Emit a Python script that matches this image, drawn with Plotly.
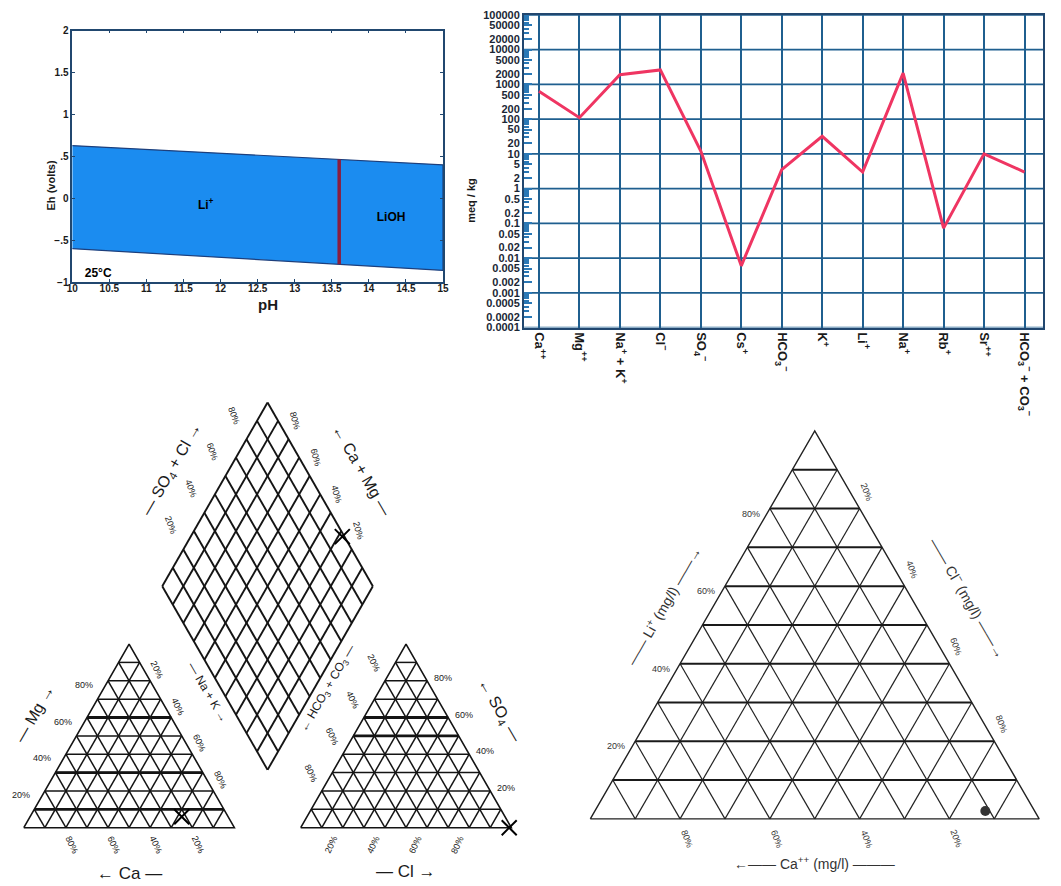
import numpy as np
import plotly.graph_objects as go

W, H = 1061, 886

# ---------------- Panel A : Eh-pH diagram ----------------
ph_ends = [10, 15]
eh_upper = [0.63, 0.40]
eh_lower = [-0.60, -0.86]
ph_li_lioh = 13.6
ph_ticks = [10, 10.5, 11, 11.5, 12, 12.5, 13, 13.5, 14, 14.5, 15]
ph_ticktext = ["10", "10.5", "11", "11.5", "12", "12.5", "13", "13.5", "14", "14.5", "15"]
eh_ticks = [-1, -0.5, 0, 0.5, 1, 1.5, 2]
eh_ticktext = ["−1", "−.5", "0", ".5", "1", "1.5", "2"]
field_names = ["Li<sup>+</sup>", "LiOH"]
field_ph = [11.8, 14.3]
field_eh = [-0.09, -0.23]
temp_label = "25°C"
temp_ph = 10.35
temp_eh = -0.9

# ---------------- Panel B : Schoeller diagram ----------------
ions = ["Ca<sup>++</sup>", "Mg<sup>++</sup>", "Na<sup>+</sup> + K<sup>+</sup>", "Cl<sup>−</sup>",
        "SO<sub>4</sub><sup>−</sup>", "Cs<sup>+</sup>", "HCO<sub>3</sub><sup>−</sup>", "K<sup>+</sup>",
        "Li<sup>+</sup>", "Na<sup>+</sup>", "Rb<sup>+</sup>", "Sr<sup>++</sup>",
        "HCO<sub>3</sub><sup>−</sup> + CO<sub>3</sub><sup>−</sup>"]
meq_kg = [630, 110, 1900, 2600, 12, 0.006, 3.5, 32, 3.0, 2100, 0.073, 10, 3.0]
meq_ticks = [1e-4, 2e-4, 5e-4, 1e-3, 2e-3, 5e-3, 0.01, 0.02, 0.05, 0.1, 0.2, 0.5,
             1, 2, 5, 10, 20, 50, 100, 200, 500, 1000, 2000, 5000, 10000, 20000, 50000, 100000]
meq_ticktext = ["0.0001", "0.0002", "0.0005", "0.001", "0.002", "0.005", "0.01", "0.02", "0.05",
                "0.1", "0.2", "0.5", "1", "2", "5", "10", "20", "50", "100", "200", "500",
                "1000", "2000", "5000", "10000", "20000", "50000", "100000"]
meq_decades = [1e-4, 1e-3, 1e-2, 1e-1, 1, 10, 100, 1000, 10000, 100000]

# ---------------- Panel C : Piper diagram ----------------
grid_levels = [0.1, 0.2, 0.3, 0.4, 0.5, 0.6, 0.7, 0.8, 0.9]
pct_levels = [0.2, 0.4, 0.6, 0.8]
cation_names = ["Ca", "Mg", "Na + K"]
cation_pct = [22, 6, 72]
anion_names = ["HCO3 + CO3", "SO4", "Cl"]
anion_pct = [1, 0, 99]
cation_bold_levels = [0.1, 0.3, 0.6]
anion_bold_levels = [0.5, 0.6]

# ---------------- Panel D : Li - Cl - Ca ternary ----------------
tern_names = ["Ca++", "Cl-", "Li+"]
tern_pct = [11, 87, 2]     # Ca, Cl, Li

h = np.sqrt(3) / 2
gap = 0.315


def tri_pt(left, right, top, x0=0.0):
    return (x0 + right + top / 2.0, top * h)


def tri_grid(levels, x0=0.0):
    horiz, diag = [], []
    for v in levels:
        horiz.append((tri_pt(1 - v, 0, v, x0), tri_pt(0, 1 - v, v, x0)))
        diag.append((tri_pt(v, 1 - v, 0, x0), tri_pt(v, 0, 1 - v, x0)))
        diag.append((tri_pt(1 - v, v, 0, x0), tri_pt(0, v, 1 - v, x0)))
    return horiz, diag


def tri_outline(x0=0.0):
    pts = [tri_pt(1, 0, 0, x0), tri_pt(0, 1, 0, x0), tri_pt(0, 0, 1, x0), tri_pt(1, 0, 0, x0)]
    return [p[0] for p in pts], [p[1] for p in pts]


B = (1 + gap / 2, gap * h)


def dia_pt(p, q):
    return (B[0] + 0.5 * p - 0.5 * q, B[1] + h * (p + q))


def seg_xy(segs):
    xs, ys = [], []
    for (a, b) in segs:
        xs += [a[0], b[0], None]
        ys += [a[1], b[1], None]
    return xs, ys


fig = go.Figure()

# ---- Panel A traces
fig.add_trace(go.Scatter(x=ph_ends + ph_ends[::-1], y=eh_upper + eh_lower[::-1], fill="toself",
                         fillcolor="#1b8cf0", mode="lines", line=dict(color="#1d3f7c", width=1.2),
                         xaxis="x", yaxis="y", hoverinfo="skip"))
eh_b_top = float(np.interp(ph_li_lioh, ph_ends, eh_upper))
eh_b_bot = float(np.interp(ph_li_lioh, ph_ends, eh_lower))
fig.add_trace(go.Scatter(x=[ph_li_lioh, ph_li_lioh], y=[eh_b_bot, eh_b_top], mode="lines",
                         line=dict(color="#8a1d3e", width=3.5), xaxis="x", yaxis="y"))
fig.add_trace(go.Scatter(x=field_ph, y=field_eh, text=field_names, mode="text",
                         textfont=dict(size=12, color="black", family="Arial", weight="bold"),
                         xaxis="x", yaxis="y"))
fig.add_trace(go.Scatter(x=[temp_ph], y=[temp_eh], text=[temp_label], mode="text",
                         textfont=dict(size=12, color="black", family="Arial", weight="bold"),
                         xaxis="x", yaxis="y"))

# ---- Panel B traces
fig.add_trace(go.Scatter(x=ions, y=meq_kg, mode="lines", line=dict(color="#ef3562", width=3),
                         xaxis="x2", yaxis="y2"))

# ---- Panel C traces (Piper)
ox = 1 + gap
line_col = "#141414"
ch, cd = tri_grid(grid_levels, 0.0)
ah, ad = tri_grid(grid_levels, ox)
xs, ys = seg_xy(ch + cd + ah + ad)
fig.add_trace(go.Scatter(x=xs, y=ys, mode="lines", line=dict(color=line_col, width=1.5),
                         xaxis="x3", yaxis="y3", hoverinfo="skip"))
bold = [(tri_pt(1 - v, 0, v), tri_pt(0, 1 - v, v)) for v in cation_bold_levels]
bold += [(tri_pt(1 - v, 0, v, ox), tri_pt(0, 1 - v, v, ox)) for v in anion_bold_levels]
xs, ys = seg_xy(bold)
fig.add_trace(go.Scatter(x=xs, y=ys, mode="lines", line=dict(color=line_col, width=2.8),
                         xaxis="x3", yaxis="y3", hoverinfo="skip"))
for x0 in (0.0, ox):
    tx, ty = tri_outline(x0)
    fig.add_trace(go.Scatter(x=tx, y=ty, mode="lines", line=dict(color=line_col, width=1.6),
                             xaxis="x3", yaxis="y3", hoverinfo="skip"))
dsegs = []
for v in [0.0] + grid_levels + [1.0]:
    dsegs.append((dia_pt(v, 0), dia_pt(v, 1)))
    dsegs.append((dia_pt(0, v), dia_pt(1, v)))
xs, ys = seg_xy(dsegs)
fig.add_trace(go.Scatter(x=xs, y=ys, mode="lines", line=dict(color=line_col, width=1.9),
                         xaxis="x3", yaxis="y3", hoverinfo="skip"))

ca, mg, nak = [c / 100 for c in cation_pct]
hco3, so4, cl = [a / 100 for a in anion_pct]
cp = tri_pt(ca, nak, mg)
ap = tri_pt(hco3, cl, so4, ox)
dp = dia_pt(so4 + cl, ca + mg)
fig.add_trace(go.Scatter(x=[cp[0], ap[0], dp[0]], y=[cp[1], ap[1], dp[1]], mode="markers",
                         marker=dict(symbol="x-thin", size=15, line=dict(color="black", width=2)),
                         xaxis="x3", yaxis="y3"))

# ---- Panel D traces (ternary)
th, td = tri_grid(grid_levels, 0.0)
xs, ys = seg_xy(td)
fig.add_trace(go.Scatter(x=xs, y=ys, mode="lines", line=dict(color="#222222", width=1.2),
                         xaxis="x4", yaxis="y4", hoverinfo="skip"))
xs, ys = seg_xy(th)
fig.add_trace(go.Scatter(x=xs, y=ys, mode="lines", line=dict(color="#1a1a1a", width=2.0),
                         xaxis="x4", yaxis="y4", hoverinfo="skip"))
tx, ty = tri_outline(0.0)
fig.add_trace(go.Scatter(x=tx, y=ty, mode="lines", line=dict(color="#222222", width=1.4),
                         xaxis="x4", yaxis="y4", hoverinfo="skip"))
t_ca, t_cl, t_li = [t / 100 for t in tern_pct]
tp = tri_pt(t_ca, t_cl, t_li)
fig.add_trace(go.Scatter(x=[tp[0]], y=[tp[1]], mode="markers",
                         marker=dict(symbol="circle", size=10, color="#333333"),
                         xaxis="x4", yaxis="y4"))

# ---------------- annotations ----------------
anns = []


def ann(pt, text, ref, size=9, angle=0, dx=0, dy=0, color="#1a1a1a", weight="normal"):
    anns.append(dict(x=pt[0], y=pt[1], xref="x" + ref, yref="y" + ref, text=text, showarrow=False,
                     textangle=angle, xshift=dx, yshift=dy,
                     font=dict(size=size, color=color, family="Arial", weight=weight)))


def pct(v):
    return f"{int(round(v * 100))}%"


for v in pct_levels:
    # cation triangle
    ann(tri_pt(1 - v, 0, v), pct(v), "3", dx=-24, dy=-4)
    ann(tri_pt(0, v, 1 - v), pct(v), "3", angle=65, dx=7, dy=11)
    ann(tri_pt(v, 1 - v, 0), pct(v), "3", angle=65, dx=6, dy=-17)
    # anion triangle
    ann(tri_pt(v, 0, 1 - v, ox), pct(v), "3", angle=65, dx=-11, dy=18)
    ann(tri_pt(0, 1 - v, v, ox), pct(v), "3", dx=16, dy=3)
    ann(tri_pt(1 - v, v, 0, ox), pct(v), "3", angle=-65, dx=-12, dy=-17)
    # diamond
    ann(dia_pt(v, 1), pct(v), "3", angle=70, dx=-13, dy=24)
    ann(dia_pt(1, v), pct(v), "3", angle=75, dx=6, dy=19)
    # ternary D
    ann(tri_pt(1 - v, 0, v), pct(v), "4", dx=-19, dy=-5, color="#333333")
    ann(tri_pt(0, v, 1 - v), pct(v), "4", angle=70, dx=7, dy=17, color="#333333")
    ann(tri_pt(v, 1 - v, 0), pct(v), "4", angle=70, dx=7, dy=-20, color="#333333")

# Piper axis titles
ann(dia_pt(0.5, 1), "— SO<sub>4</sub> + Cl →", "3", size=16, angle=-60, dx=-43, dy=25)
ann(dia_pt(1, 0.5), "← Ca + Mg —", "3", size=16, angle=60, dx=42, dy=24)
ann(dia_pt(0, 0.42), "— Na + K →", "3", size=12, angle=60, dx=-15, dy=0)
ann(dia_pt(0.44, 0), "← HCO<sub>3</sub> + CO<sub>3</sub> —", "3", size=12, angle=-60, dx=14, dy=0)
ann(tri_pt(0.45, 0, 0.55), "— Mg →", "3", size=16, angle=-60, dx=-47, dy=13)
ann(tri_pt(0.5, 0.5, 0), "← Ca —", "3", size=17, dy=-46)
ann(tri_pt(0, 0.4, 0.6, ox), "← SO<sub>4</sub> —", "3", size=16, angle=60, dx=51, dy=7)
ann(tri_pt(0.5, 0.5, 0, ox), "— Cl →", "3", size=17, dy=-44)

# Ternary D titles
ann(tri_pt(0.45, 0, 0.55), "—— Li<sup>+</sup> (mg/l) ——→", "4", size=14, angle=-60, dx=-51, color="#333333")
ann(tri_pt(0, 0.43, 0.57), "—— Cl<sup>−</sup> (mg/l) ——→", "4", size=14, angle=60, dx=57, color="#333333")
ann(tri_pt(0.5, 0.5, 0), "←—— Ca<sup>++</sup> (mg/l) ———", "4", size=14, dy=-44, color="#333333")

# Panel A / B titles (paper coordinates)
anns.append(dict(x=37 / W, y=1 - 155 / H, xref="paper", yref="paper", text="Eh (volts)",
                 showarrow=False, textangle=-90,
                 font=dict(size=11, color="#1a1a1a", family="Arial", weight="bold")))
anns.append(dict(x=253 / W, y=1 - 303 / H, xref="paper", yref="paper", text="pH",
                 showarrow=False, font=dict(size=15, color="#1a1a1a", family="Arial", weight="bold")))
anns.append(dict(x=470 / W, y=1 - 172 / H, xref="paper", yref="paper", text="meq / kg",
                 showarrow=False, textangle=-90,
                 font=dict(size=11, color="#1a1a1a", family="Arial", weight="bold")))

# decade grid lines for Schoeller
shapes = [dict(type="line", xref="x2 domain", x0=0, x1=1, yref="y2", y0=d, y1=d,
               line=dict(color="#1f5f8f", width=1.6), layer="below") for d in meq_decades]

minor_vals = [m * d for d in meq_decades[:-1] for m in (3, 4, 6, 7, 8, 9)]

# ---------------- axes ----------------
ax_col = "#21476f"
grid_col = "#1f5f8f"
piper_o, piper_sx, piper_sy, piper_base = 18.0, 213.0, 215.0, 833.0
tern_o, tern_s, tern_base = 591.0, 454.0, 824.0

fig.update_layout(
    width=W, height=H, margin=dict(l=0, r=0, t=0, b=0),
    paper_bgcolor="white", plot_bgcolor="white", showlegend=False,
    font=dict(family="Arial", color="#1a1a1a"),
    xaxis=dict(domain=[67 / W, 442 / W], range=[10, 15], anchor="y", tickvals=ph_ticks,
               ticktext=ph_ticktext, ticks="inside", ticklen=3, tickcolor=ax_col, showline=True,
               linecolor=ax_col, linewidth=1.5, mirror="ticks", showgrid=False, zeroline=False,
               ticklabelstandoff=-4,
               tickfont=dict(size=10, weight="bold", color="#1a1a1a")),
    yaxis=dict(domain=[1 - 280 / H, 1 - 25 / H], range=[-1, 2], anchor="x", tickvals=eh_ticks,
               ticktext=eh_ticktext, ticks="inside", ticklen=3, tickcolor=ax_col, showline=True,
               linecolor=ax_col, linewidth=1.5, mirror="ticks", showgrid=False, zeroline=False,
               tickfont=dict(size=10, weight="bold", color="#1a1a1a")),
    xaxis2=dict(domain=[524 / W, 1049 / W], type="category", range=[-0.367, 12.46], anchor="y2",
                showgrid=True, gridcolor=grid_col, gridwidth=1.6, tickangle=90, ticks="",
                showline=True, linecolor=ax_col, linewidth=2, mirror=True,
                tickfont=dict(size=13, weight="bold", color="#1a1a1a")),
    yaxis2=dict(domain=[1 - 326 / H, 1 - 9 / H], type="log", range=[-4, 5], anchor="x2",
                tickvals=meq_ticks, ticktext=meq_ticktext, ticks="inside", ticklen=8,
                tickcolor="#2a78b5", tickwidth=1.5, showgrid=False, zeroline=False,
                showline=True, linecolor=ax_col, linewidth=2, mirror=True,
                minor=dict(tickvals=minor_vals, ticks="inside", ticklen=5, tickcolor="#2a78b5"),
                tickfont=dict(size=11, weight="bold", color="#1b2735")),
    xaxis3=dict(domain=[0, 545 / W], anchor="y3", visible=False,
                range=[(0 - piper_o) / piper_sx, (545 - piper_o) / piper_sx]),
    yaxis3=dict(domain=[0, 1 - 390 / H], anchor="x3", visible=False,
                range=[(piper_base - 886) / piper_sy, (piper_base - 390) / piper_sy]),
    xaxis4=dict(domain=[560 / W, 1], anchor="y4", visible=False,
                range=[(560 - tern_o) / tern_s, (1061 - tern_o) / tern_s]),
    yaxis4=dict(domain=[0, 1 - 400 / H], anchor="x4", visible=False,
                range=[(tern_base - 886) / tern_s, (tern_base - 400) / tern_s]),
    annotations=anns, shapes=shapes,
)

fig.write_html("out.html", config={"displayModeBar": False},
               post_script="document.body.style.margin='0px';")
